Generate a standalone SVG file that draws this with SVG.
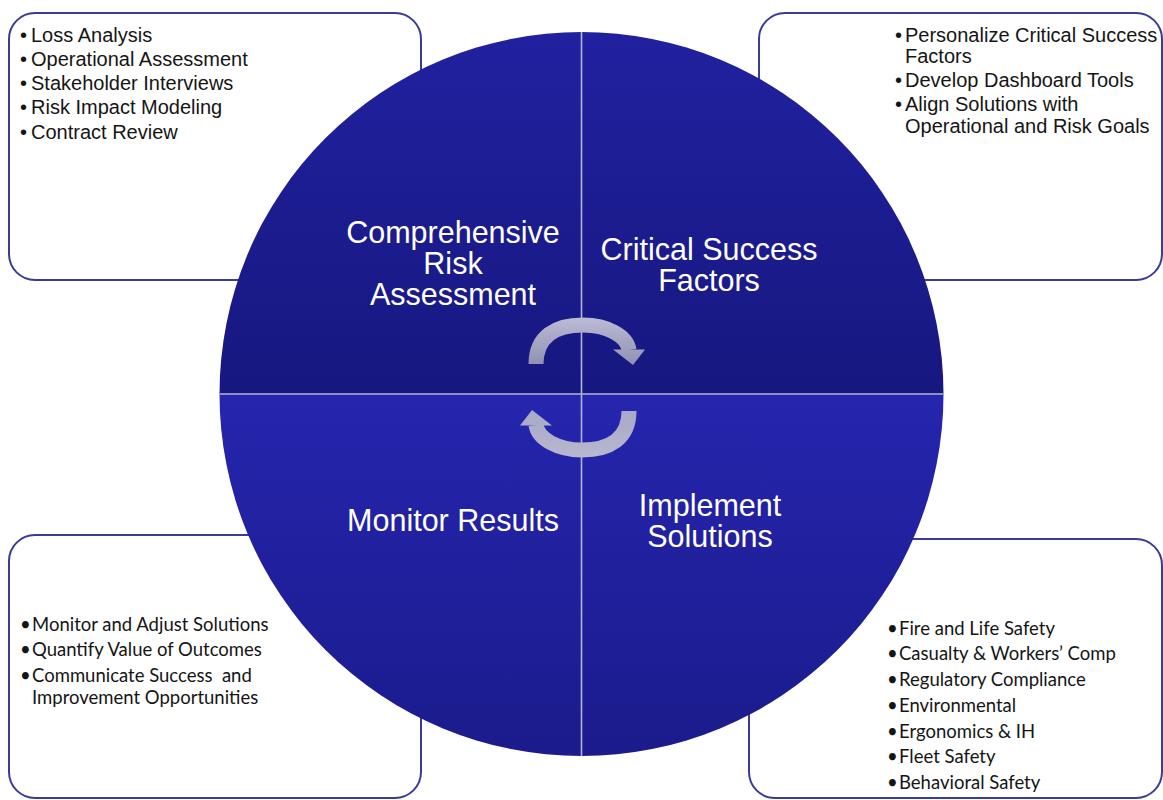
<svg xmlns="http://www.w3.org/2000/svg" width="1163" height="800" viewBox="0 0 1163 800">
<defs>
<style>
.box{fill:#ffffff;stroke:#3a3a9a;stroke-width:2}
.ta{font-family:"Liberation Sans",Arial,sans-serif;font-size:20px;fill:#151515}
.tc{font-family:Lato,"Open Sans",sans-serif;font-size:18.5px;fill:#151515}
.lbl{font-family:"Liberation Sans",Arial,sans-serif;font-size:30.5px;fill:#ffffff;text-anchor:middle}
.div{stroke:#b4b4d4;stroke-width:1.6}
.band{fill:none;stroke-width:15}
</style>
<clipPath id="cc"><circle cx="581.5" cy="394" r="362"/></clipPath>
<linearGradient id="gTop" x1="0" y1="32" x2="0" y2="394" gradientUnits="userSpaceOnUse">
<stop offset="0" stop-color="#2121a0"/><stop offset="1" stop-color="#171780"/>
</linearGradient>
<linearGradient id="gBot" x1="0" y1="394" x2="0" y2="756" gradientUnits="userSpaceOnUse">
<stop offset="0" stop-color="#2525ae"/><stop offset="1" stop-color="#1b1b8c"/>
</linearGradient>
<linearGradient id="gA1" x1="0" y1="317" x2="0" y2="365" gradientUnits="userSpaceOnUse">
<stop offset="0" stop-color="#bcbcd6"/><stop offset="1" stop-color="#9090b2"/>
</linearGradient>
<linearGradient id="gA2" x1="0" y1="410" x2="0" y2="459" gradientUnits="userSpaceOnUse">
<stop offset="0" stop-color="#a8a8c8"/><stop offset="1" stop-color="#b8b8d0"/>
</linearGradient>
</defs>
<rect width="1163" height="800" fill="#ffffff"/>

<g id="box-assessment">
<rect class="box" x="9" y="13" width="412" height="267" rx="26"/>
<text class="ta"><tspan x="20" y="41.5">•</tspan><tspan x="31" y="41.5">Loss Analysis</tspan></text>
<text class="ta"><tspan x="20" y="66">•</tspan><tspan x="31" y="66">Operational Assessment</tspan></text>
<text class="ta"><tspan x="20" y="90">•</tspan><tspan x="31" y="90">Stakeholder Interviews</tspan></text>
<text class="ta"><tspan x="20" y="114">•</tspan><tspan x="31" y="114">Risk Impact Modeling</tspan></text>
<text class="ta"><tspan x="20" y="138.5">•</tspan><tspan x="31" y="138.5">Contract Review</tspan></text>
</g>

<g id="box-csf">
<rect class="box" x="759" y="13" width="403" height="267" rx="26"/>
<text class="ta"><tspan x="895" y="41.5">•</tspan><tspan x="905" y="41.5">Personalize Critical Success</tspan></text>
<text class="ta" x="905" y="62.5">Factors</text>
<text class="ta"><tspan x="895" y="87">•</tspan><tspan x="905" y="87">Develop Dashboard Tools</tspan></text>
<text class="ta"><tspan x="895" y="111">•</tspan><tspan x="905" y="111">Align Solutions with</tspan></text>
<text class="ta" x="905" y="132.5">Operational and Risk Goals</text>
</g>

<g id="box-monitor">
<rect class="box" x="9" y="535" width="412" height="263" rx="26"/>
<text class="tc"><tspan x="20" y="631">•</tspan><tspan x="32" y="631">Monitor and Adjust Solutions</tspan></text>
<text class="tc"><tspan x="20" y="656">•</tspan><tspan x="32" y="656">Quantify Value of Outcomes</tspan></text>
<text class="tc"><tspan x="20" y="682">•</tspan><tspan x="32" y="682">Communicate Success&#160; and</tspan></text>
<text class="tc" x="32" y="704">Improvement Opportunities</text>
</g>

<g id="box-implement">
<rect class="box" x="749" y="539" width="413" height="259" rx="26"/>
<text class="tc"><tspan x="887" y="635">•</tspan><tspan x="899" y="635">Fire and Life Safety</tspan></text>
<text class="tc"><tspan x="887" y="660">•</tspan><tspan x="899" y="660">Casualty &amp; Workers’ Comp</tspan></text>
<text class="tc"><tspan x="887" y="686">•</tspan><tspan x="899" y="686">Regulatory Compliance</tspan></text>
<text class="tc"><tspan x="887" y="712">•</tspan><tspan x="899" y="712">Environmental</tspan></text>
<text class="tc"><tspan x="887" y="738">•</tspan><tspan x="899" y="738">Ergonomics &amp; IH</tspan></text>
<text class="tc"><tspan x="887" y="763">•</tspan><tspan x="899" y="763">Fleet Safety</tspan></text>
<text class="tc"><tspan x="887" y="789">•</tspan><tspan x="899" y="789">Behavioral Safety</tspan></text>
</g>

<g id="wheel">
<g clip-path="url(#cc)">
<rect x="219" y="31" width="726" height="363" fill="url(#gTop)"/>
<rect x="219" y="394" width="726" height="363" fill="url(#gBot)"/>
</g>
<line class="div" x1="581.5" y1="32" x2="581.5" y2="756"/>
<line class="div" x1="219.5" y1="394" x2="943.5" y2="394" stroke-width="2" stroke="#c4c4dc"/>
</g>

<g id="q-assessment">
<text class="lbl" x="453" y="243">Comprehensive</text>
<text class="lbl" x="453" y="274">Risk</text>
<text class="lbl" x="453" y="305">Assessment</text>
</g>
<g id="q-csf">
<text class="lbl" x="709" y="260">Critical Success</text>
<text class="lbl" x="709" y="291">Factors</text>
</g>
<g id="q-monitor">
<text class="lbl" x="453" y="531">Monitor Results</text>
</g>
<g id="q-implement">
<text class="lbl" x="710" y="516">Implement</text>
<text class="lbl" x="710" y="547">Solutions</text>
</g>

<g id="connectors">
<path class="band" stroke="url(#gA1)" d="M536 364 C536 336 556 325 583 325 C607 325 627 336 629 350"/>
<polygon fill="url(#gA1)" points="613,349.5 645,349.5 633,365"/>
<path class="band" stroke="url(#gA2)" d="M629 411 C629 439 609 450 582 450 C558 450 538 439 536 425"/>
<polygon fill="url(#gA2)" points="552,425.5 520,425.5 532,410"/>
</g>
</svg>
